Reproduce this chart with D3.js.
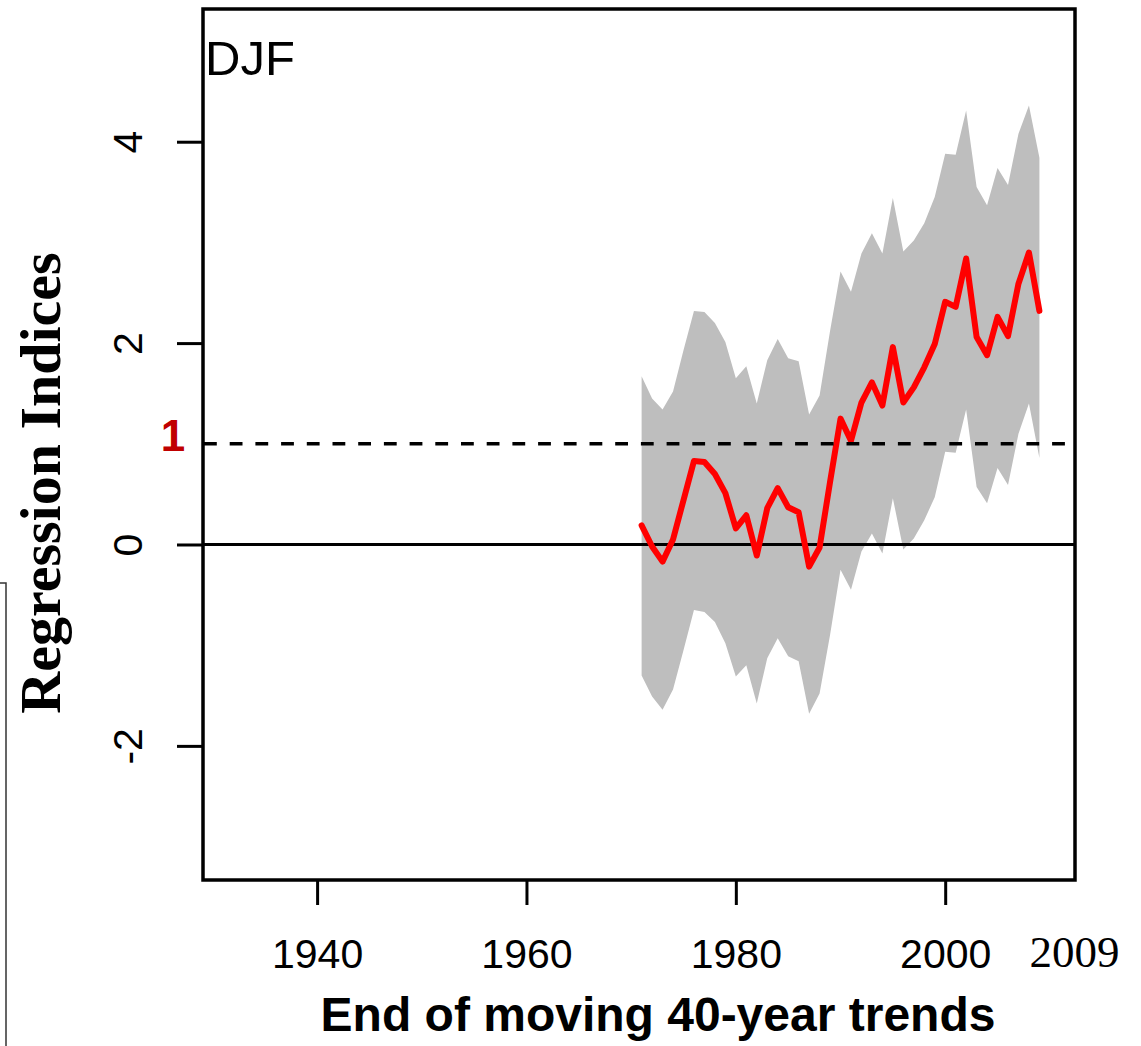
<!doctype html>
<html>
<head>
<meta charset="utf-8">
<style>
  body { margin: 0; background: #fff; }
  svg { display: block; }
</style>
</head>
<body>
  <svg id="chart"></svg>
</body>
<script src="https://d3js.org/d3.v7.min.js"></script>
<script>
  // end year of each moving 40-year trend
  const years = [1971, 1972, 1973, 1974, 1975, 1976, 1977, 1978, 1979, 1980,
                 1981, 1982, 1983, 1984, 1985, 1986, 1987, 1988, 1989, 1990,
                 1991, 1992, 1993, 1994, 1995, 1996, 1997, 1998, 1999, 2000,
                 2001, 2002, 2003, 2004, 2005, 2006, 2007, 2008, 2009];
  const index = [0.19, -0.02, -0.17, 0.05, 0.44, 0.83, 0.82, 0.70, 0.51, 0.16,
                 0.29, -0.11, 0.36, 0.56, 0.37, 0.32, -0.22, -0.03, 0.62, 1.25,
                 1.03, 1.41, 1.61, 1.38, 1.96, 1.41, 1.56, 1.76, 1.99, 2.41,
                 2.36, 2.84, 2.06, 1.88, 2.26, 2.07, 2.59, 2.90, 2.32];
  const upper = [1.67, 1.45, 1.34, 1.52, 1.93, 2.32, 2.31, 2.20, 2.01, 1.65,
                 1.77, 1.40, 1.83, 2.04, 1.85, 1.82, 1.29, 1.48, 2.12, 2.71,
                 2.51, 2.89, 3.09, 2.89, 3.44, 2.91, 3.02, 3.19, 3.45, 3.88,
                 3.87, 4.31, 3.55, 3.37, 3.74, 3.57, 4.08, 4.36, 3.84];
  const lower = [-1.30, -1.51, -1.64, -1.44, -1.05, -0.65, -0.67, -0.77, -0.98, -1.31,
                 -1.20, -1.58, -1.13, -0.93, -1.11, -1.16, -1.68, -1.48, -0.90, -0.25,
                 -0.45, -0.07, 0.11, -0.09, 0.46, -0.05, 0.06, 0.24, 0.47, 0.92,
                 0.91, 1.34, 0.57, 0.41, 0.76, 0.59, 1.10, 1.40, 0.86];
  const xTicks = [1940, 1960, 1980, 2000];
  const yTicks = [-2, 0, 2, 4];
  const zeroLine = 0;
  const threshold = 1;
  const endYear = 2009;
  const panelLabel = "DJF";
  const xTitle = "End of moving 40-year trends";
  const yTitle = "Regression Indices";

  const width = 1141, height = 1046;
  const sans = "'Liberation Sans', Arial, sans-serif";
  const serif = "'Liberation Serif', 'Times New Roman', serif";

  const svg = d3.select("#chart").attr("width", width).attr("height", height);

  const box = { left: 203, right: 1075, top: 9, bottom: 880 };
  const x = d3.scaleLinear().domain([1929.1, 2012.4]).range([box.left, box.right]);
  const y = d3.scaleLinear().domain([-3.332, 5.318]).range([box.bottom, box.top]);

  const rows = years.map((yr, i) => ({ year: yr, v: index[i], lo: lower[i], hi: upper[i] }));

  // grey envelope
  const area = d3.area()
    .x(d => x(d.year))
    .y0(d => y(d.lo))
    .y1(d => y(d.hi));
  svg.append("path")
    .datum(rows)
    .attr("d", area)
    .attr("fill", "#bebebe");

  // zero line
  svg.append("line")
    .attr("x1", box.left).attr("x2", box.right)
    .attr("y1", y(zeroLine)).attr("y2", y(zeroLine))
    .attr("stroke", "#000")
    .attr("stroke-width", 3);

  // red index line
  const line = d3.line()
    .x(d => x(d.year))
    .y(d => y(d.v));
  svg.append("path")
    .datum(rows)
    .attr("d", line)
    .attr("fill", "none")
    .attr("stroke", "#ff0000")
    .attr("stroke-width", 6)
    .attr("stroke-linejoin", "round")
    .attr("stroke-linecap", "round");

  // dashed threshold line
  svg.append("line")
    .attr("x1", box.left).attr("x2", box.right)
    .attr("y1", y(threshold)).attr("y2", y(threshold))
    .attr("stroke", "#000")
    .attr("stroke-width", 3.5)
    .attr("stroke-dasharray", "12.8 12.9")
    .attr("stroke-dashoffset", -1);

  // axes
  const xAxis = svg.append("g")
    .attr("transform", `translate(0,${box.bottom})`)
    .call(d3.axisBottom(x).tickValues(xTicks).tickSize(25).tickFormat(d => String(d)));
  xAxis.select(".domain").remove();
  xAxis.selectAll(".tick line").attr("stroke", "#000").attr("stroke-width", 3);
  xAxis.selectAll(".tick text")
    .attr("y", 88)
    .attr("dy", null)
    .attr("fill", "#000")
    .style("font-family", sans)
    .style("font-size", "41px");

  const yAxis = svg.append("g")
    .attr("transform", `translate(${box.left},0)`)
    .call(d3.axisLeft(y).tickValues(yTicks).tickSize(26).tickFormat(d => String(d)));
  yAxis.select(".domain").remove();
  yAxis.selectAll(".tick line").attr("stroke", "#000").attr("stroke-width", 3);
  yAxis.selectAll(".tick text")
    .attr("x", null)
    .attr("dy", null)
    .attr("transform", "translate(-61,0) rotate(-90)")
    .attr("text-anchor", "middle")
    .attr("fill", "#000")
    .style("font-family", sans)
    .style("font-size", "41px");

  // plot frame
  svg.append("rect")
    .attr("x", box.left).attr("y", box.top)
    .attr("width", box.right - box.left)
    .attr("height", box.bottom - box.top)
    .attr("fill", "none")
    .attr("stroke", "#000")
    .attr("stroke-width", 3.5);

  // texts
  svg.append("text")
    .attr("x", box.left + 2).attr("y", 75)
    .style("font-family", sans).style("font-size", "49px")
    .text(panelLabel);

  svg.append("text")
    .attr("x", 173).attr("y", y(threshold) + 7)
    .attr("text-anchor", "middle")
    .attr("fill", "#c00000")
    .style("font-family", sans).style("font-size", "44px").style("font-weight", "bold")
    .text(threshold);

  svg.append("text")
    .attr("x", x(endYear) + 35).attr("y", 967)
    .attr("text-anchor", "middle")
    .style("font-family", serif).style("font-size", "45px")
    .text(endYear);

  svg.append("text")
    .attr("x", 658).attr("y", 1031)
    .attr("text-anchor", "middle")
    .style("font-family", sans).style("font-size", "48px").style("font-weight", "bold")
    .text(xTitle);

  svg.append("text")
    .attr("transform", "translate(60,483) rotate(-90)")
    .attr("text-anchor", "middle")
    .style("font-family", serif).style("font-size", "58px").style("font-weight", "bold")
    .text(yTitle);

  // stray frame edge at the left of the figure
  svg.append("path")
    .attr("d", "M0,583H6V1046")
    .attr("fill", "none")
    .attr("stroke", "#333")
    .attr("stroke-width", 1.5);
</script>
</html>
